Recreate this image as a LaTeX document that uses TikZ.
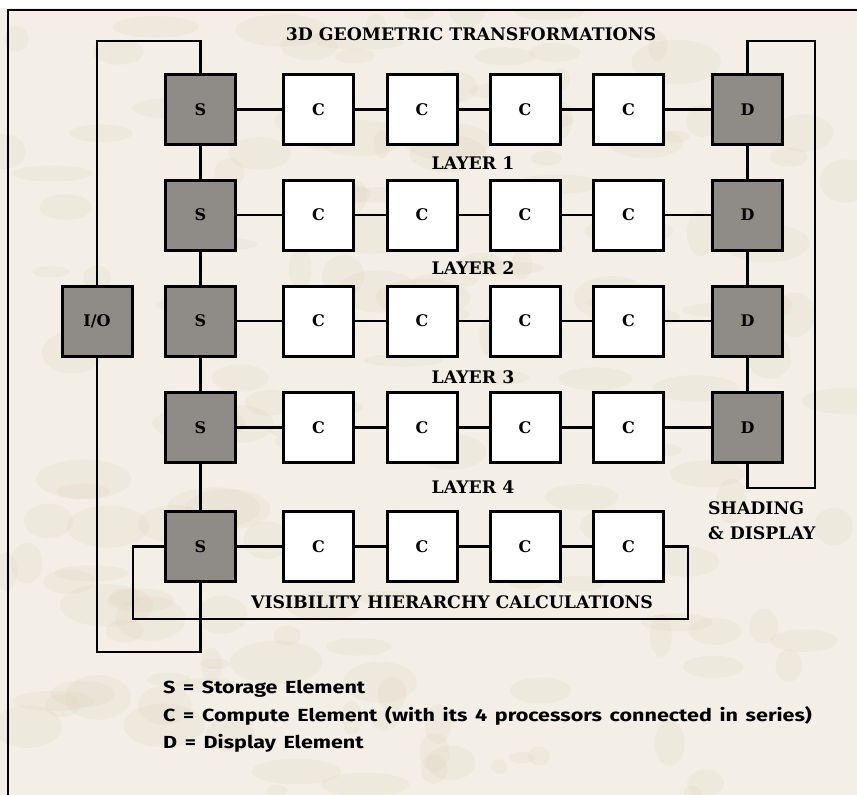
\documentclass[tikz,border=0pt]{standalone}
\usepackage{fontspec}
\newfontfamily\legendfont{Fira Sans}[FakeStretch=1.23, WordSpace=1.5]
\newfontfamily\labelfont{DejaVu Serif}
\definecolor{paper}{HTML}{F3EFE6}
\definecolor{blot}{HTML}{E0D6BF}
\definecolor{boxgray}{HTML}{8F8C87}
\tikzset{
  elem/.style={draw=black, line width=3pt, minimum width=70pt, minimum height=70pt,
    inner sep=0pt, font=\labelfont\bfseries\fontsize{16}{16}\selectfont},
  sbox/.style={elem, fill=boxgray},
  cbox/.style={elem, fill=white},
  wire/.style={line width=2.7pt, line join=miter},
  lbl/.style={font=\labelfont\bfseries\fontsize{17.3}{17.3}\selectfont, inner sep=0pt},
  leg/.style={font=\legendfont\bfseries\fontsize{17.5}{17.5}\selectfont, inner sep=0pt, anchor=west}
}
\begin{document}
\begin{tikzpicture}[x=1pt,y=-1pt]
\useasboundingbox (0,0) rectangle (857,795);
\fill[paper] (0,0) rectangle (857,795);
\pgfmathsetseed{7}
\foreach \i in {1,...,160}{
  \pgfmathsetmacro{\px}{rnd*857}
  \pgfmathsetmacro{\py}{rnd*795}
  \pgfmathsetmacro{\rx}{8+rnd*40}
  \pgfmathsetmacro{\ry}{5+rnd*18}
  \fill[blot, opacity=0.22] (\px,\py) ellipse [x radius=\rx pt, y radius=\ry pt];
}
\fill[white] (0,0) rectangle (857,8);
\draw[line width=1.2pt] (8,800) -- (8,10) -- (860,10);

% columns: S 200.5, C 318.5 422 525 628.5, D 747.5 ; rows 109.5 215 321 427.5 546.5
\foreach \r/\y in {1/109.5,2/215,3/321,4/427.5,5/546.5}{
  \node[sbox] (s\r) at (200.5,\y) {S};
  \node[cbox] (c\r1) at (318.5,\y) {C};
  \node[cbox] (c\r2) at (422,\y) {C};
  \node[cbox] (c\r3) at (525,\y) {C};
  \node[cbox] (c\r4) at (628.5,\y) {C};
}
\foreach \r/\y in {1/109.5,2/215,3/321,4/427.5}{
  \node[sbox] (d\r) at (747.5,\y) {D};
}
\node[sbox] (io) at (97,321) {I/O};

% row connections
\foreach \r in {1,...,4}{
  \draw[wire] (s\r) -- (c\r1) -- (c\r2) -- (c\r3) -- (c\r4) -- (d\r);
}
\draw[wire] (s5) -- (c51) -- (c52) -- (c53) -- (c54);
% vertical chains
\draw[wire] (s1) -- (s2) -- (s3) -- (s4) -- (s5);
\draw[wire] (d1) -- (d2) -- (d3) -- (d4);

% I/O routes
\coordinate (iot) at (97,41);
\coordinate (st) at (200.5,41);
\draw[wire] (io.north) -- (iot) -- (st) -- (s1.north);
\coordinate (iob) at (97,652);
\coordinate (sb) at (200.5,652);
\draw[wire] (io.south) -- (iob) -- (sb) -- (s5.south);

% visibility loop
\coordinate (v1) at (688,546.5);
\coordinate (v2) at (688,619);
\coordinate (v3) at (133,619);
\coordinate (v4) at (133,546.5);
\draw[wire] (c54.east) -- (v1) -- (v2) -- (v3) -- (v4) -- (s5.west);

% display loop
\coordinate (dl1) at (747.5,41);
\coordinate (dl2) at (815,41);
\coordinate (dl3) at (815,488);
\coordinate (dl4) at (747.5,488);
\draw[wire] (d1.north) -- (dl1) -- (dl2) -- (dl3) -- (dl4) -- (d4.south);

% labels
\node[lbl] (title) at (471,34) {3D GEOMETRIC TRANSFORMATIONS};
\node[lbl] (l1) at (473,163) {LAYER 1};
\node[lbl] (l2) at (473,268.5) {LAYER 2};
\node[lbl] (l3) at (473,377) {LAYER 3};
\node[lbl] (l4) at (473,487) {LAYER 4};
\node[lbl] (vis) at (452,602) {VISIBILITY HIERARCHY CALCULATIONS};
\node[lbl, anchor=west] (sh1) at (708,508) {SHADING};
\node[lbl, anchor=west] (sh2) at (708,533) {\& DISPLAY};

% legend
\node[leg] (lg1) at (163,689) {S = Storage Element};
\node[leg] (lg2) at (163,716) {C = Compute Element (with its 4 processors connected in series)};
\node[leg] (lg3) at (163,743) {D = Display Element};
\end{tikzpicture}
\end{document}
